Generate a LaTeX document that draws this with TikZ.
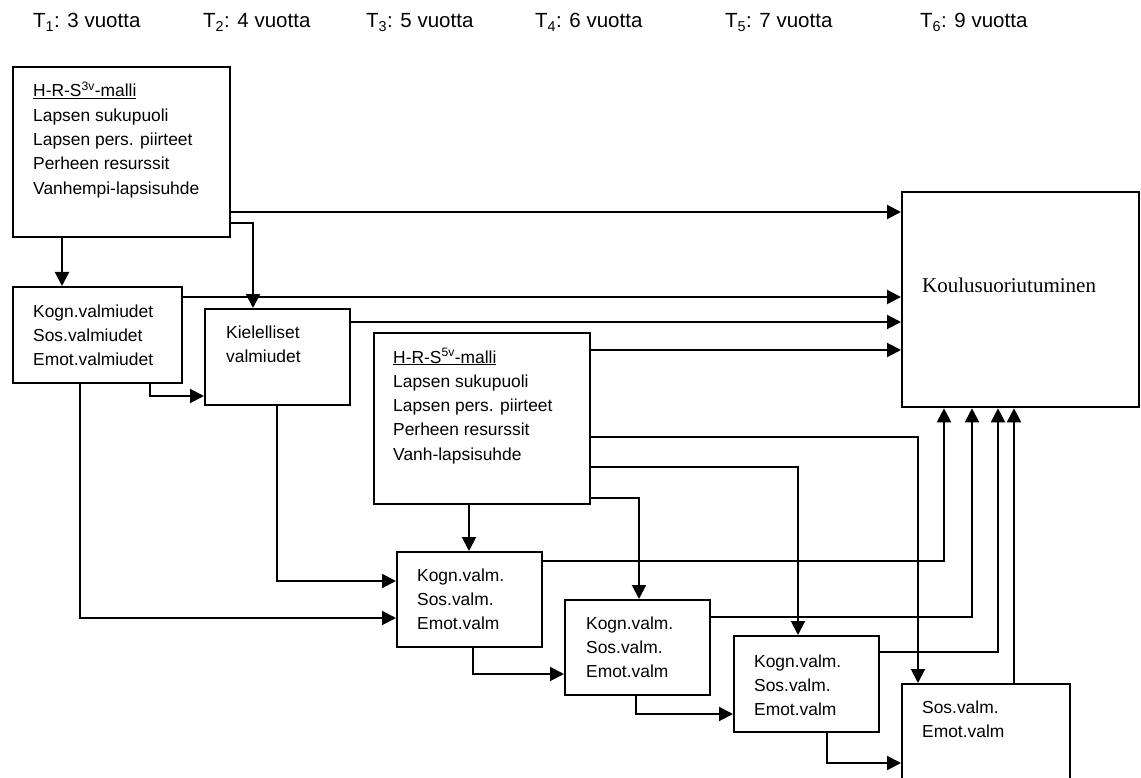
\documentclass[tikz,border=0pt]{standalone}
\usepackage{fontspec}
\setmainfont{Liberation Sans}
\newfontfamily\serifface{Liberation Serif}
\usetikzlibrary{arrows.meta}

\newcommand{\boxlines}[1]{\parbox[t]{220pt}{\raggedright #1}}

\begin{document}
\begin{tikzpicture}[
    x=1pt, y=-1pt,
    box/.style={draw, line width=2.3pt, anchor=north west, inner sep=0pt},
    txt/.style={anchor=base west, inner sep=0pt, font=\fontsize{17.4}{24.3}\selectfont},
    yearlbl/.style={anchor=base west, inner sep=0pt, font=\fontsize{20.5}{24}\selectfont},
    conn/.style={line width=2pt, -{Triangle[length=14pt, width=14pt]}},
]
\useasboundingbox (0,0) rectangle (1141,778);

% Time points
\foreach \x/\i/\age in {33/1/3, 203/2/4, 366/3/5, 535/4/6, 725/5/7, 920/6/9} {
    \node[yearlbl] (t\i) at (\x,28) {T\textsubscript{\i}: \age\ vuotta};
}

% Boxes
\node[box, minimum width=217pt, minimum height=170pt] (hrs3) at (12,66) {};
\node[box, minimum width=169pt, minimum height=96pt] (val3) at (12,286) {};
\node[box, minimum width=145pt, minimum height=96pt] (kiel) at (204,308) {};
\node[box, minimum width=216pt, minimum height=171pt] (hrs5) at (373,332) {};
\node[box, minimum width=145pt, minimum height=95pt] (val5) at (396,551) {};
\node[box, minimum width=145pt, minimum height=95pt] (val6) at (564,599) {};
\node[box, minimum width=145pt, minimum height=96pt] (val7) at (733,635) {};
\node[box, minimum width=168pt, minimum height=120pt] (val9) at (901,683) {};
\node[box, minimum width=237pt, minimum height=215pt] (koulu) at (901,191) {};

% Box texts
\node[txt] (hrs3txt) at (33,97) {\boxlines{\underline{H-R-S\textsuperscript{3v}-malli}\\
    Lapsen sukupuoli\\ Lapsen pers. piirteet\\ Perheen resurssit\\ Vanhempi-lapsisuhde}};
\node[txt] (val3txt) at (33,317) {\boxlines{Kogn.valmiudet\\ Sos.valmiudet\\ Emot.valmiudet}};
\node[txt] (kieltxt) at (226,338) {\boxlines{Kielelliset\\ valmiudet}};
\node[txt] (hrs5txt) at (393,363) {\boxlines{\underline{H-R-S\textsuperscript{5v}-malli}\\
    Lapsen sukupuoli\\ Lapsen pers. piirteet\\ Perheen resurssit\\ Vanh-lapsisuhde}};
\node[txt] (val5txt) at (417,581) {\boxlines{Kogn.valm.\\ Sos.valm.\\ Emot.valm}};
\node[txt] (val6txt) at (586,629) {\boxlines{Kogn.valm.\\ Sos.valm.\\ Emot.valm}};
\node[txt] (val7txt) at (754,667) {\boxlines{Kogn.valm.\\ Sos.valm.\\ Emot.valm}};
\node[txt] (val9txt) at (922,713) {\boxlines{Sos.valm.\\ Emot.valm}};
\node[anchor=base west, inner sep=0pt, font=\serifface\fontsize{21}{25}\selectfont]
    (koulutxt) at (922,293) {Koulusuoriutuminen};

% Into Koulusuoriutuminen from the left
\draw[conn] (hrs3.east |- 0,212) -- (koulu.west |- 0,212);
\draw[conn] (val3.east |- 0,297) -- (koulu.west |- 0,297);
\draw[conn] (kiel.east |- 0,322) -- (koulu.west |- 0,322);
\draw[conn] (hrs5.east |- 0,350) -- (koulu.west |- 0,350);

% 3 vuotta -> 4 vuotta
\draw[conn] (hrs3.south -| 62,0) -- (val3.north -| 62,0);
\draw[conn] (hrs3.east |- 0,223) -| (kiel.north -| 253,0);
\draw[conn] (val3.south -| 150,0) |- (kiel.west |- 0,396);

% Into the 6-year box
\draw[conn] (kiel.south -| 277,0) |- (val5.west |- 0,581);
\draw[conn] (val3.south -| 80,0) |- (val5.west |- 0,618);
\draw[conn] (hrs5.south -| 469,0) -- (val5.north -| 469,0);

% From the 5-year model downwards
\draw[conn] (hrs5.east |- 0,498) -| (val6.north -| 639,0);
\draw[conn] (hrs5.east |- 0,467) -| (val7.north -| 798,0);
\draw[conn] (hrs5.east |- 0,437) -| (val9.north -| 918,0);

% Chain of skills
\draw[conn] (val5.south -| 473,0) |- (val6.west |- 0,674);
\draw[conn] (val6.south -| 636,0) |- (val7.west |- 0,714);
\draw[conn] (val7.south -| 827,0) |- (val9.west |- 0,763);

% Up into Koulusuoriutuminen
\draw[conn] (val5.east |- 0,561) -| (koulu.south -| 944,0);
\draw[conn] (val6.east |- 0,617) -| (koulu.south -| 972,0);
\draw[conn] (val7.east |- 0,652) -| (koulu.south -| 998,0);
\draw[conn] (val9.north -| 1014,0) -- (koulu.south -| 1014,0);

\end{tikzpicture}
\end{document}
